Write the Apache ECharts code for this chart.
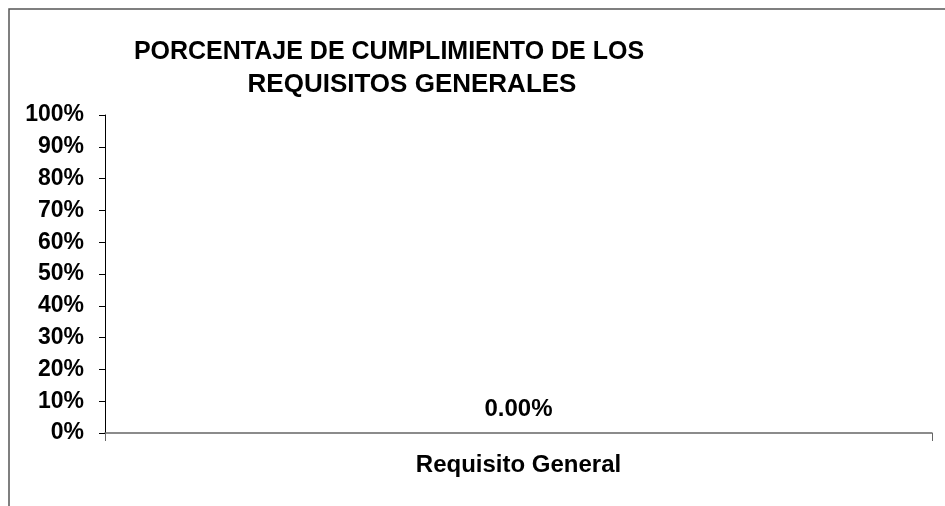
<!DOCTYPE html>
<html>
<head>
<meta charset="utf-8">
<script src="https://cdn.jsdelivr.net/npm/echarts@6/dist/echarts.min.js"></script>
<style>
  html, body { margin: 0; padding: 0; background: #fff; }
  #chart { width: 945px; height: 506px; }
</style>
</head>
<body>
<div id="chart"></div>
<script>
// data
const categories = ['Requisito General']
const values = [0]
const yTicks = [0, 0.1, 0.2, 0.3, 0.4, 0.5, 0.6, 0.7, 0.8, 0.9, 1]
const titleLines = ['PORCENTAJE DE CUMPLIMIENTO DE LOS', 'REQUISITOS GENERALES']

const chart = echarts.init(document.getElementById('chart'))
const font = 'Liberation Sans, Arial, sans-serif'

const titleStyle = {
  fontFamily: font,
  fontWeight: 'bold',
  fontSize: 25,
  color: '#000'
}

chart.setOption({
  backgroundColor: '#fff',
  animation: false,
  title: [
    { text: titleLines[0], left: 384, top: 35, textAlign: 'center', textStyle: titleStyle },
    { text: titleLines[1], left: 407, top: 67, textAlign: 'center', textStyle: { ...titleStyle, fontSize: 26 } }
  ],
  graphic: [
    {
      type: 'rect',
      shape: { x: 9, y: 9, width: 1000, height: 1000 },
      style: { fill: 'none', stroke: '#555', lineWidth: 1.5 },
      silent: true
    }
  ],
  grid: { left: 105, right: 13, top: 115, bottom: 73 },
  xAxis: {
    type: 'category',
    data: categories,
    axisLine: { lineStyle: { color: '#666', width: 1.5 } },
    axisTick: { show: true, length: 8, lineStyle: { color: '#666' } },
    axisLabel: {
      margin: 20,
      fontFamily: font,
      fontWeight: 'bold',
      fontSize: 24,
      color: '#000'
    }
  },
  yAxis: {
    type: 'value',
    min: 0,
    max: 1,
    interval: 0.1,
    splitLine: { show: false },
    axisLine: { show: true, lineStyle: { color: '#000', width: 1 } },
    axisTick: { show: true, length: 6, lineStyle: { color: '#000' } },
    axisLabel: {
      margin: 21,
      fontFamily: font,
      fontWeight: 'bold',
      fontSize: 23,
      color: '#000',
      formatter: v => yTicks.includes(Math.round(v * 10) / 10) ? Math.round(v * 100) + '%' : ''
    }
  },
  series: [
    {
      type: 'bar',
      data: values,
      barWidth: '50%',
      itemStyle: { color: '#9999ff' },
      label: {
        show: true,
        position: 'top',
        distance: 12,
        fontFamily: font,
        fontWeight: 'bold',
        fontSize: 24,
        color: '#000',
        formatter: p => (p.value * 100).toFixed(2) + '%'
      }
    }
  ]
})
</script>
</body>
</html>
